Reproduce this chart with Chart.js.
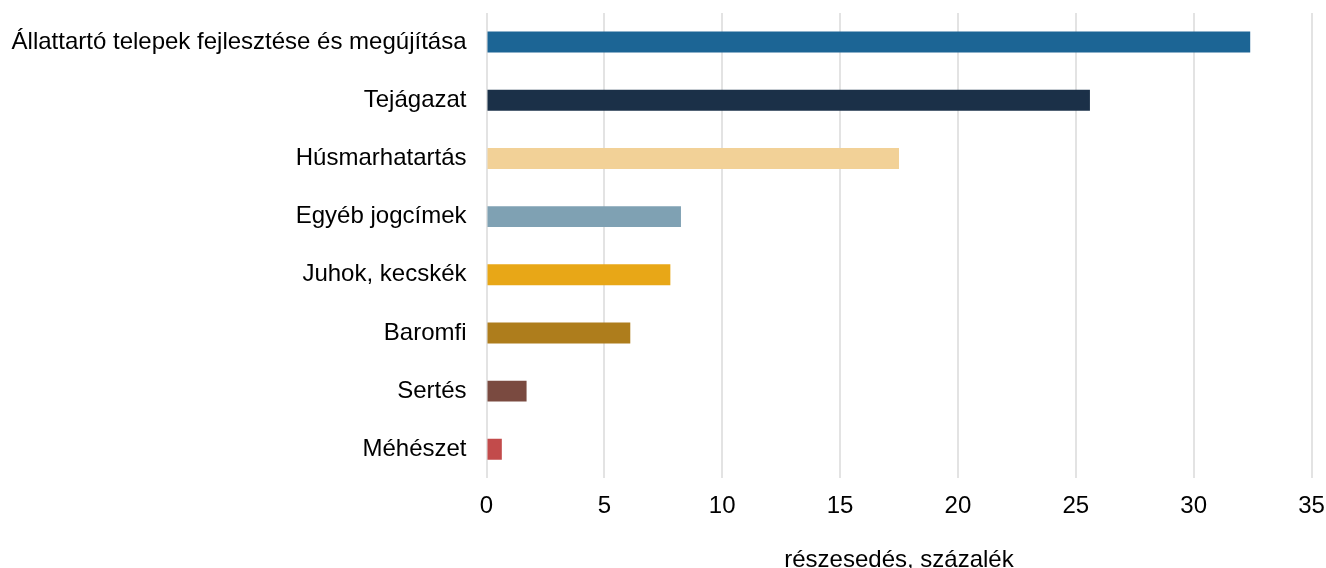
<!DOCTYPE html>
<html>
<head>
<meta charset="utf-8">
<script src="https://cdn.jsdelivr.net/npm/chart.js@4"></script>
<style>
  html, body { margin: 0; padding: 0; background: #fff; overflow: hidden; height: 568px; }
  #wrap { width: 1326px; height: 575px; }
</style>
</head>
<body>
<div id="wrap"><canvas id="shareChart"></canvas></div>
<script>
  // categories and share values (percent)
  const categories = [
    'Állattartó telepek fejlesztése és megújítása',
    'Tejágazat',
    'Húsmarhatartás',
    'Egyéb jogcímek',
    'Juhok, kecskék',
    'Baromfi',
    'Sertés',
    'Méhészet'
  ];
  const shares = [32.4, 25.6, 17.5, 8.25, 7.8, 6.1, 1.7, 0.65];
  const barColors = ['#1c6595', '#1b3048', '#f2d197', '#7fa1b3', '#e8a717', '#ae7d1c', '#7a4a40', '#c24b4b'];
  const xTicks = [0, 5, 10, 15, 20, 25, 30, 35];

  Chart.defaults.font.family = '"Liberation Sans", Arial, sans-serif';
  Chart.defaults.color = '#000';

  const ctx = document.getElementById('shareChart').getContext('2d');
  new Chart(ctx, {
    type: 'bar',
    data: {
      labels: categories,
      datasets: [{
        data: shares,
        backgroundColor: barColors,
        barPercentage: 0.72,
        categoryPercentage: 0.5
      }]
    },
    options: {
      indexAxis: 'y',
      responsive: true,
      maintainAspectRatio: false,
      animation: false,
      layout: { padding: { top: 13, right: 14.5, left: 0, bottom: 0 } },
      plugins: {
        legend: { display: false },
        tooltip: { enabled: false }
      },
      scales: {
        x: {
          min: 0,
          max: 35,
          afterBuildTicks: function(scale) {
            scale.ticks = xTicks.map(v => ({ value: v }));
          },
          afterFit: function(scale) {
            // labels may overhang the plot edges, as in the original
            scale.paddingLeft = 0;
            scale.paddingRight = 0;
          },
          grid: { color: '#e3e3e3', lineWidth: 2, drawTicks: false },
          border: { display: false },
          ticks: { font: { size: 24 }, padding: 14 },
          title: {
            display: true,
            text: 'részesedés, százalék',
            font: { size: 24 },
            padding: { top: 11, bottom: 0 }
          }
        },
        y: {
          grid: { display: false, drawTicks: false },
          border: { display: false },
          ticks: { font: { size: 24 }, padding: 20 },
          afterFit: function(scale) {
            scale.width = 486.5;
            scale.paddingTop = 0;
            scale.paddingBottom = 0;
          }
        }
      }
    }
  });
</script>
</body>
</html>
